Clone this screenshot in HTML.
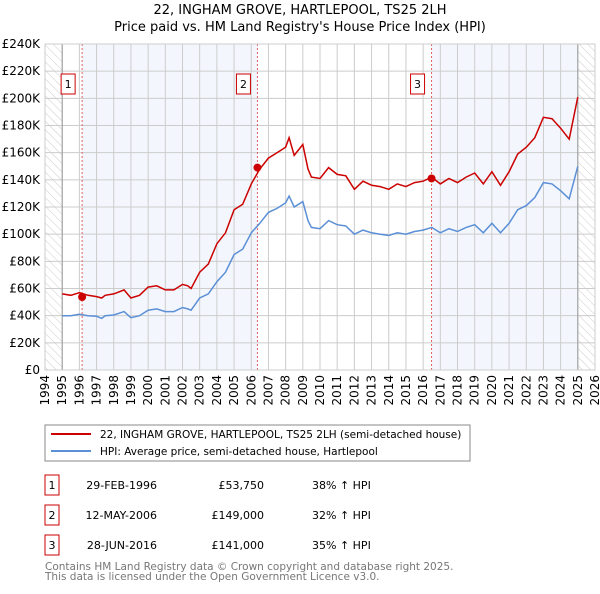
<!DOCTYPE html>
<html><head><meta charset="utf-8"><style>
body{margin:0;background:#fff;width:600px;height:590px;overflow:hidden;font-family:"DejaVu Sans","Liberation Sans",sans-serif}
svg text{font-family:"DejaVu Sans","Liberation Sans",sans-serif}
</style></head><body>
<svg id="chart" width="600" height="590" xmlns="http://www.w3.org/2000/svg">
<defs><pattern id="hatch" width="6" height="6" patternUnits="userSpaceOnUse" patternTransform="rotate(-45)"><rect width="6" height="6" fill="#fff"/><line x1="0" y1="0" x2="0" y2="6" stroke="#ccc" stroke-width="1"/></pattern></defs>
<text x="300" y="14" text-anchor="middle" font-size="13">22, INGHAM GROVE, HARTLEPOOL, TS25 2LH</text>
<text x="300" y="31" text-anchor="middle" font-size="13">Price paid vs. HM Land Registry's House Price Index (HPI)</text>
<g id="plot"></g>
<g>
<rect x="45" y="425" width="425" height="36" fill="#fff" stroke="#888"/>
<line x1="51" y1="434" x2="91" y2="434" stroke="#cc0000" stroke-width="2"/>
<text x="100" y="438" font-size="10.5">22, INGHAM GROVE, HARTLEPOOL, TS25 2LH (semi-detached house)</text>
<line x1="51" y1="451" x2="91" y2="451" stroke="#5b8fd6" stroke-width="2"/>
<text x="100" y="455" font-size="10.5">HPI: Average price, semi-detached house, Hartlepool</text>
</g>
<g id="table"></g>
<text x="45" y="570" font-size="10.5" fill="#777">Contains HM Land Registry data © Crown copyright and database right 2025.</text>
<text x="45" y="580" font-size="10.5" fill="#777">This data is licensed under the Open Government Licence v3.0.</text>
</svg>
<script>
const hpiYears=[1995,1995.5,1996,1996.5,1997,1997.3,1997.5,1998,1998.6,1999,1999.5,2000,2000.5,2001,2001.5,2002,2002.3,2002.5,2003,2003.5,2004,2004.5,2005,2005.5,2006,2006.5,2007,2007.5,2008,2008.2,2008.5,2009,2009.3,2009.5,2010,2010.5,2011,2011.5,2012,2012.5,2013,2013.5,2014,2014.5,2015,2015.5,2016,2016.5,2017,2017.5,2018,2018.5,2019,2019.5,2020,2020.5,2021,2021.5,2022,2022.5,2023,2023.5,2024,2024.5,2025];
const hpiValues=[40,40,41,40,39.5,38,40,40.5,43,38.5,40,44,45,43,43,46,45,44,53,56,65,72,85,89,101,108,116,119,123,128,120,124,110,105,104,110,107,106,100,103,101,100,99,101,100,102,103,105,101,104,102,105,107,101,108,101,108,118,121,127,138,137,132,126,150];
const priceValues=[56,55,57,55,54,53,55,56,59,53,55,61,62,59,59,63,62,60,72,78,93,101,118,122,137,148,156,160,164,171,158,166,148,142,141,149,144,143,133,139,136,135,133,137,135,138,139,142,137,141,138,142,145,137,146,136,146,159,164,171,186,185,178,170,201];
const saleYears=[1996.16,2006.36,2016.49];
const salePrices=[53.75,149,141];
const saleLabels=["1","2","3"];
const saleDates=["29-FEB-1996","12-MAY-2006","28-JUN-2016"];
const salePriceText=["£53,750","£149,000","£141,000"];
const saleHpiText=["38% ↑ HPI","32% ↑ HPI","35% ↑ HPI"];
const yTicks=[0,20,40,60,80,100,120,140,160,180,200,220,240];
const xTicks=[1994,1995,1996,1997,1998,1999,2000,2001,2002,2003,2004,2005,2006,2007,2008,2009,2010,2011,2012,2013,2014,2015,2016,2017,2018,2019,2020,2021,2022,2023,2024,2025,2026];

const L=45,R=595,T=44,B=370;
const x=y=>L+(y-1994)/(32)*(R-L);
const yv=v=>B-v/240*(B-T);
const NS="http://www.w3.org/2000/svg";
const plot=document.getElementById('plot');
function mk(tag,attrs,parent){const e=document.createElementNS(NS,tag);for(const k in attrs)e.setAttribute(k,attrs[k]);(parent||plot).appendChild(e);return e;}
let e;
e=mk('rect',{x:L,y:T,width:R-L,height:B-T,fill:'#fff'});


e=mk('rect',{x:x(1994),y:T,width:x(1995)-x(1994),height:B-T,fill:'url(#hatch)'});


e=mk('rect',{x:x(2025),y:T,width:x(2026)-x(2025),height:B-T,fill:'url(#hatch)'});


e=mk('rect',{x:x(saleYears[0]),y:T,width:x(saleYears[1])-x(saleYears[0]),height:B-T,fill:'#eef3fc',opacity:0.7});


e=mk('rect',{x:x(saleYears[2]),y:T,width:x(2025)-x(saleYears[2]),height:B-T,fill:'#eef3fc',opacity:0.7});


yTicks.forEach(t=>{
 e=mk('line',{x1:L,x2:R,y1:yv(t),y2:yv(t),stroke:'#ccc'});
 
 
 e=mk('text',{x:L-5,y:yv(t)+4,'text-anchor':'end','font-size':12});
 e.textContent=t===0?'£0':'£'+t+'K';
 
 
});
xTicks.forEach(t=>{
 e=mk('line',{x1:x(t),x2:x(t),y1:T,y2:B,stroke:'#ccc'});
 
 
 e=mk('text',{x:0,y:0,'text-anchor':'end','font-size':12,transform:`translate(${x(t)+4},${B+5}) rotate(-90)`});
 e.textContent=t;
 
 
});
e=mk('line',{x1:x(1995),x2:x(1995),y1:T,y2:B,stroke:'#999'});


e=mk('line',{x1:x(2025),x2:x(2025),y1:T,y2:B,stroke:'#999'});


saleYears.forEach((s,i)=>{
 e=mk('line',{x1:x(s),x2:x(s),y1:T,y2:B,stroke:'#e06060','stroke-dasharray':'2,2'});
 
 
 e=mk('rect',{x:x(s)-21,y:74,width:14,height:20,fill:'#fff',stroke:'#cc0000'});
 
 
 e=mk('text',{x:x(s)-14,y:88,'text-anchor':'middle','font-size':11});
 e.textContent=saleLabels[i];
 
 
});
const pts=(ys,vs)=>ys.map((t,i)=>x(t).toFixed(1)+','+yv(vs[i]).toFixed(1)).join(' ');
e=mk('polyline',{points:pts(hpiYears,hpiValues),fill:'none',stroke:'#5b8fd6','stroke-width':1.5});


e=mk('polyline',{points:pts(hpiYears,priceValues),fill:'none',stroke:'#cc0000','stroke-width':1.5});


saleYears.forEach((s,i)=>{
 e=mk('circle',{cx:x(s),cy:yv(salePrices[i]),r:4,fill:'#cc0000'});
 
 
});
e=mk('rect',{x:L,y:T,width:R-L,height:B-T,fill:'none',stroke:'#ccc'});


const tbl=document.getElementById('table');
saleLabels.forEach((lab,i)=>{
 const ty=475+i*30;
 e=mk('rect',{x:45,y:ty,width:14,height:20,fill:'#fff',stroke:'#cc0000'},tbl);
 
 
 e=mk('text',{x:52,y:ty+14,'text-anchor':'middle','font-size':11},tbl);e.textContent=lab;
 
 
 e=mk('text',{x:157,y:ty+14,'text-anchor':'end','font-size':11},tbl);e.textContent=saleDates[i];
 
 
 e=mk('text',{x:264,y:ty+14,'text-anchor':'end','font-size':11},tbl);e.textContent=salePriceText[i];
 
 
 e=mk('text',{x:312,y:ty+14,'font-size':11},tbl);e.textContent=saleHpiText[i];
 
 
});
</script>
</body></html>
